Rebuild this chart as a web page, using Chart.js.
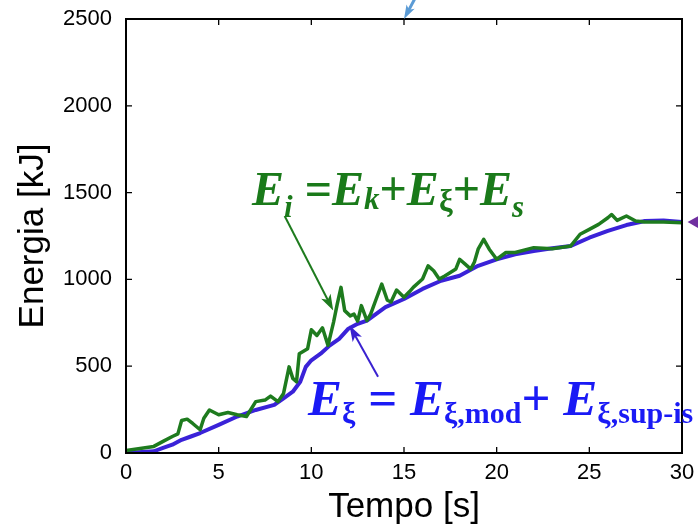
<!DOCTYPE html>
<html>
<head>
<meta charset="utf-8">
<script src="https://cdn.jsdelivr.net/npm/chart.js@4.4.1/dist/chart.umd.min.js"></script>
<style>
  html, body { margin: 0; padding: 0; background: #fff; }
  #wrap { width: 698px; height: 528px; position: relative; }
</style>
</head>
<body>
<div id="wrap"><canvas id="grafico"></canvas></div>
<script>
// valores (tempo em s, energia em kJ)
const tempoEi = [0, 1.5, 2, 2.5, 2.8, 3, 3.3, 3.6, 4, 4.2, 4.5, 5, 5.5, 6, 6.5, 7, 7.5, 7.8, 8.2, 8.5, 8.8, 9.0, 9.2, 9.35, 9.8, 10, 10.3, 10.6, 10.9, 11.2, 11.4, 11.6, 11.8, 12.1, 12.3, 12.5, 12.7, 13, 13.2, 13.5, 13.8, 14.1, 14.3, 14.6, 15, 15.3, 15.5, 16, 16.3, 16.6, 16.9, 17.2, 17.5, 17.8, 18, 18.3, 18.6, 18.8, 19, 19.3, 19.6, 20, 20.5, 21, 22, 23, 24, 24.5, 25, 25.5, 26, 26.2, 26.5, 27, 27.5, 28, 29, 30];
const energiaEi = [15, 38, 67, 95, 110, 187, 195, 170, 134, 200, 248, 220, 233, 220, 210, 296, 305, 328, 296, 343, 496, 430, 410, 572, 601, 710, 677, 721, 620, 754, 859, 954, 820, 790, 800, 760, 849, 763, 800, 887, 973, 880, 870, 939, 897, 930, 954, 1002, 1078, 1050, 1002, 1020, 1040, 1060, 1116, 1088, 1059, 1100, 1174, 1231, 1174, 1116, 1155, 1155, 1183, 1177, 1193, 1260, 1288, 1317, 1355, 1374, 1340, 1365, 1336, 1330, 1330, 1326];

const tempoExi = [0, 1.5, 2, 2.5, 3, 3.5, 4, 5, 6, 7, 8, 8.5, 9, 9.4, 9.7, 10, 10.5, 11, 11.5, 12, 12.5, 13, 13.5, 14, 15, 16, 17, 18, 19, 20, 21, 22, 23, 24, 25, 26, 27, 28, 29, 30];
const energiaExi = [0, 10, 29, 48, 76, 95, 115, 162, 210, 248, 277, 315, 353, 410, 496, 534, 572, 620, 658, 716, 744, 763, 802, 840, 887, 945, 992, 1021, 1078, 1116, 1145, 1164, 1179, 1193, 1240, 1279, 1313, 1336, 1340, 1330];

const tickX = [0, 5, 10, 15, 20, 25, 30];
const tickY = [0, 500, 1000, 1500, 2000, 2500];

// setas das anotacoes, em coordenadas dos dados [x0, y0, x1, y1]
const setaEi = [8.56, 1365, 11.18, 821];
const setaExi = [13.6, 439, 12.06, 735];
const setaTopo = [15.7, 2640, 15.0, 2500];

const serif = '"Liberation Serif", "DejaVu Serif", serif';

// escreve texto com subscritos, peca por peca
function escreve(ctx, x0, yb, partes, cor) {
  ctx.fillStyle = cor;
  ctx.textAlign = 'left';
  ctx.textBaseline = 'alphabetic';
  let xx = x0;
  partes.forEach(([t, font, dy]) => {
    ctx.font = font;
    ctx.fillText(t, xx, yb + dy);
    xx += ctx.measureText(t).width;
  });
}

function seta(ctx, x0, y0, x1, y1, cor, larg, cab) {
  const ang = Math.atan2(y1 - y0, x1 - x0);
  const c = Math.cos(ang), s = Math.sin(ang);
  ctx.strokeStyle = cor;
  ctx.fillStyle = cor;
  ctx.lineWidth = larg;
  ctx.beginPath();
  ctx.moveTo(x0, y0);
  ctx.lineTo(x1 - c * cab * 0.7, y1 - s * cab * 0.7);
  ctx.stroke();
  ctx.beginPath();
  ctx.moveTo(x1, y1);
  ctx.lineTo(x1 - cab * c + cab * 0.33 * s, y1 - cab * s - cab * 0.33 * c);
  ctx.lineTo(x1 - cab * c * 0.75, y1 - cab * s * 0.75);
  ctx.lineTo(x1 - cab * c - cab * 0.33 * s, y1 - cab * s + cab * 0.33 * c);
  ctx.closePath();
  ctx.fill();
}

const extras = {
  id: 'extras',
  afterDraw(chart) {
    const { ctx, chartArea: a, scales: { x, y } } = chart;
    ctx.save();

    // moldura e ticks para dentro (estilo matlab)
    ctx.strokeStyle = '#000';
    ctx.lineWidth = 2;
    ctx.strokeRect(a.left, a.top, a.right - a.left, a.bottom - a.top);
    ctx.beginPath();
    tickX.forEach(v => {
      const px = x.getPixelForValue(v);
      ctx.moveTo(px, a.bottom); ctx.lineTo(px, a.bottom - 6);
      ctx.moveTo(px, a.top); ctx.lineTo(px, a.top + 6);
    });
    tickY.forEach(v => {
      const py = y.getPixelForValue(v);
      ctx.moveTo(a.left, py); ctx.lineTo(a.left + 6, py);
      ctx.moveTo(a.right, py); ctx.lineTo(a.right - 6, py);
    });
    ctx.lineWidth = 1.3;
    ctx.stroke();

    const X = v => x.getPixelForValue(v);
    const Y = v => y.getPixelForValue(v);

    // setas
    seta(ctx, X(setaEi[0]), Y(setaEi[1]), X(setaEi[2]), Y(setaEi[3]), '#1e7b1e', 2, 16);
    seta(ctx, X(setaExi[0]), Y(setaExi[1]), X(setaExi[2]), Y(setaExi[3]), '#3a22d0', 2, 16);
    seta(ctx, X(setaTopo[0]), Y(setaTopo[1]), X(setaTopo[2]), Y(setaTopo[3]), '#5b9bd5', 3, 14);

    // triangulo roxo na borda direita
    const ty = Y(1330), tx = X(30.3);
    ctx.fillStyle = '#7030a0';
    ctx.beginPath();
    ctx.moveTo(tx, ty);
    ctx.lineTo(tx + 14, ty - 8);
    ctx.lineTo(tx + 14, ty + 8);
    ctx.closePath();
    ctx.fill();

    // equacoes
    const bi48 = 'italic bold 48px ' + serif, b48 = 'bold 48px ' + serif;
    const si31 = 'italic bold 31px ' + serif, b31 = 'bold 31px ' + serif;
    escreve(ctx, X(6.8), Y(1428), [
      ['E', bi48, 0], ['i', si31, 12], [' =', b48, 0],
      ['E', bi48, 0], ['k', si31, 4], ['+', b48, 0],
      ['E', bi48, 0], ['ξ', b31, 6], ['+', b48, 0],
      ['E', bi48, 0], ['s', si31, 12]
    ], '#1a7a1a');

    const bi51 = 'italic bold 51px ' + serif, b51 = 'bold 51px ' + serif;
    const b30 = 'bold 30px ' + serif;
    escreve(ctx, X(9.82), Y(219), [
      ['E', bi51, 0], ['ξ', b30, 8], [' = ', b51, 0],
      ['E', bi51, 0], ['ξ,mod', b30, 8], ['+ ', b51, 0],
      ['E', bi51, 0], ['ξ,sup-is', b30, 8]
    ], '#1a1af5');

    ctx.restore();
  }
};

const fonteTick = { family: '"Liberation Sans", Arial, sans-serif', size: 22 };
const fonteTitulo = { family: '"Liberation Sans", Arial, sans-serif', size: 35 };

new Chart(document.getElementById('grafico'), {
  type: 'line',
  data: {
    datasets: [{
      label: 'Ei',
      data: tempoEi.map((t, i) => ({ x: t, y: energiaEi[i] })),
      borderColor: '#1e7b1e',
      borderWidth: 3.5,
      pointRadius: 0,
      borderJoinStyle: 'round',
      tension: 0
    }, {
      label: 'Exi',
      data: tempoExi.map((t, i) => ({ x: t, y: energiaExi[i] })),
      borderColor: '#3a22d8',
      borderWidth: 4,
      pointRadius: 0,
      borderJoinStyle: 'round',
      tension: 0
    }]
  },
  options: {
    responsive: true,
    maintainAspectRatio: false,
    animation: false,
    layout: { padding: { top: 19, right: 16, left: 0, bottom: 0 } },
    plugins: { legend: { display: false }, tooltip: { enabled: false } },
    scales: {
      x: {
        type: 'linear', min: 0, max: 30,
        grid: { display: false, drawTicks: false },
        border: { display: false },
        afterBuildTicks: s => { s.ticks = tickX.map(v => ({ value: v })); },
        afterFit: s => { s.height = 75; s.paddingLeft = 0; s.paddingRight = 0; },
        ticks: { font: fonteTick, color: '#000', padding: 7, maxRotation: 0, callback: v => String(v) },
        title: { display: true, text: 'Tempo [s]', font: fonteTitulo, color: '#000', padding: { top: 0, bottom: 0 } }
      },
      y: {
        type: 'linear', min: 0, max: 2500,
        grid: { display: false, drawTicks: false },
        border: { display: false },
        afterBuildTicks: s => { s.ticks = tickY.map(v => ({ value: v })); },
        afterFit: s => { s.width = 126; s.paddingTop = 0; s.paddingBottom = 0; },
        ticks: { font: fonteTick, color: '#000', padding: 14, callback: v => String(v) },
        title: { display: true, text: 'Energia [kJ]', font: fonteTitulo, color: '#000', padding: { top: 12, bottom: 0 } }
      }
    }
  },
  plugins: [extras]
});
</script>
</body>
</html>
